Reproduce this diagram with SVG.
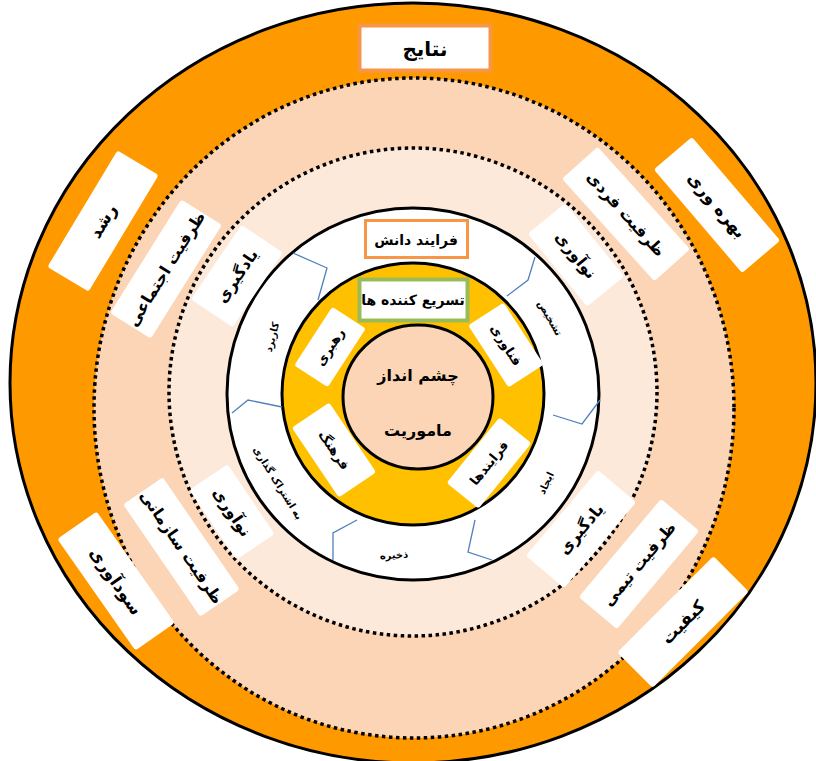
<svg xmlns="http://www.w3.org/2000/svg" width="816" height="761" viewBox="0 0 816 761">
<style>
.lbl{font-family:"DejaVu Sans",sans-serif;font-weight:bold;fill:#000;text-anchor:middle;dominant-baseline:central}
.box{fill:#fff;stroke:none}
.dot{fill:none;stroke:#000;stroke-width:3.5;stroke-dasharray:3.5 3.5}
.ring{stroke:#000;stroke-width:3}
.conn{fill:none;stroke:#4F81BD;stroke-width:1.3}
</style>
<rect width="816" height="761" fill="#fff"/>
<g id="rings">
<ellipse cx="413" cy="383" rx="403" ry="380" fill="#FF9900" class="ring"/>
<ellipse cx="414" cy="408" rx="320" ry="330" fill="#FBD5B5"/>
<ellipse cx="414" cy="408" rx="320" ry="330" class="dot"/>
<circle cx="413" cy="392" r="244" fill="#FDE9D9"/>
<circle cx="413" cy="392" r="244" class="dot"/>
<circle cx="413" cy="394" r="186" fill="#fff" class="ring"/>
<circle cx="413" cy="394" r="131" fill="#FFC000" class="ring"/>
<ellipse cx="418" cy="397" rx="75" ry="72" fill="#FBD5B5" class="ring"/>
</g>
<g id="connectors">
<polyline class="conn" points="293,253 327,268 318,300"/>
<polyline class="conn" points="535,257 528,280 507,296"/>
<polyline class="conn" points="553,415 582,424 600,400"/>
<polyline class="conn" points="475,520 468,552 492,560"/>
<polyline class="conn" points="357,520 333,533 333,560"/>
<polyline class="conn" points="232,413 248,400 282,407"/>
</g>
<g id="n-natayej"><rect x="359.5" y="25.5" width="131" height="45" fill="#fff" stroke="#F79646" stroke-width="4"/><text class="lbl" x="425" y="49" font-size="20">نتایج</text></g>
<g id="n-roshd" transform="translate(103,221) rotate(-59)"><rect class="box" x="-68" y="-24" width="136" height="48" rx="3"/><text class="lbl" font-size="17">رشد</text></g>
<g id="n-bahrevari" transform="translate(717,205) rotate(49.5)"><rect class="box" x="-68" y="-25" width="136" height="50" rx="3"/><text class="lbl" font-size="17">بهره وری</text></g>
<g id="n-keyfiyat" transform="translate(683,622) rotate(-45)"><rect class="box" x="-68" y="-25" width="136" height="50" rx="3"/><text class="lbl" font-size="17">کیفیت</text></g>
<g id="n-sudavari" transform="translate(116,581) rotate(55)"><rect class="box" x="-68" y="-24" width="136" height="48" rx="3"/><text class="lbl" font-size="17">سودآوری</text></g>
<g id="n-zarfiyat-ejtemai" transform="translate(166,269) rotate(-58)"><rect class="box" x="-67" y="-24" width="134" height="48" rx="3"/><text class="lbl" font-size="16">ظرفیت اجتماعی</text></g>
<g id="n-zarfiyat-fardi" transform="translate(626,214) rotate(48)"><rect class="box" x="-69" y="-24" width="138" height="48" rx="3"/><text class="lbl" font-size="16">ظرفیت فردی</text></g>
<g id="n-zarfiyat-timi" transform="translate(639,564) rotate(-50)"><rect class="box" x="-64" y="-25" width="128" height="50" rx="3"/><text class="lbl" font-size="16">ظرفیت تیمی</text></g>
<g id="n-zarfiyat-sazmani" transform="translate(181.5,547) rotate(55.5)"><rect class="box" x="-68" y="-24" width="136" height="48" rx="3"/><text class="lbl" font-size="16">ظرفیت سازمانی</text></g>
<g id="n-yadgiri-1" transform="translate(237,276) rotate(-56)"><rect class="box" x="-45" y="-25" width="90" height="50" rx="3"/><text class="lbl" font-size="16">یادگیری</text></g>
<g id="n-noavari-1" transform="translate(576,255) rotate(51)"><rect class="box" x="-47" y="-24" width="94" height="48" rx="3"/><text class="lbl" font-size="16">نوآوری</text></g>
<g id="n-yadgiri-2" transform="translate(581,529) rotate(-50)"><rect class="box" x="-56" y="-25" width="112" height="50" rx="3"/><text class="lbl" font-size="16">یادگیری</text></g>
<g id="n-noavari-2" transform="translate(232,512) rotate(56)"><rect class="box" x="-42" y="-23" width="84" height="46" rx="3"/><text class="lbl" font-size="16">نوآوری</text></g>
<g id="n-farayand-danesh"><rect x="365.5" y="220.5" width="102" height="37" fill="#fff" stroke="#F79646" stroke-width="3"/><text class="lbl" x="416" y="240" font-size="14">فرایند دانش</text></g>
<g id="n-tasri"><rect x="359.5" y="279.5" width="108" height="41" fill="#fff" stroke="#9BBB59" stroke-width="4"/><text class="lbl" x="413" y="300" font-size="14">تسریع کننده ها</text></g>
<g id="n-rahbari" transform="translate(330,347) rotate(-57)"><rect class="box" x="-35" y="-20" width="70" height="40" rx="3"/><text class="lbl" font-size="13">رهبری</text></g>
<g id="n-fanavari" transform="translate(506,345) rotate(57)"><rect class="box" x="-37" y="-21" width="74" height="42" rx="3"/><text class="lbl" font-size="13">فناوری</text></g>
<g id="n-farayandha" transform="translate(489,463) rotate(-51)"><rect class="box" x="-42" y="-20.5" width="84" height="41" rx="3"/><text class="lbl" font-size="13">فرایندها</text></g>
<g id="n-farhang" transform="translate(334,450) rotate(56)"><rect class="box" x="-42" y="-22.5" width="84" height="45" rx="3"/><text class="lbl" font-size="13">فرهنگ</text></g>
<g id="n-karbord" transform="translate(272,337) rotate(-75)"><text class="lbl" font-size="10">کاربرد</text></g>
<g id="n-tashkhis" transform="translate(550,318) rotate(60)"><text class="lbl" font-size="10">تشخیص</text></g>
<g id="n-ijad" transform="translate(546,483) rotate(-65)"><text class="lbl" font-size="10">ایجاد</text></g>
<g id="n-zakhire" transform="translate(394,555) rotate(-3)"><text class="lbl" font-size="10">ذخیره</text></g>
<g id="n-eshterak" transform="translate(278,483) rotate(58)"><text class="lbl" font-size="10">به اشتراک گذاری</text></g>
<g id="n-center"><text class="lbl" x="418" y="375" font-size="16">چشم انداز</text><text class="lbl" x="418" y="430" font-size="16">ماموریت</text></g>
</svg>
